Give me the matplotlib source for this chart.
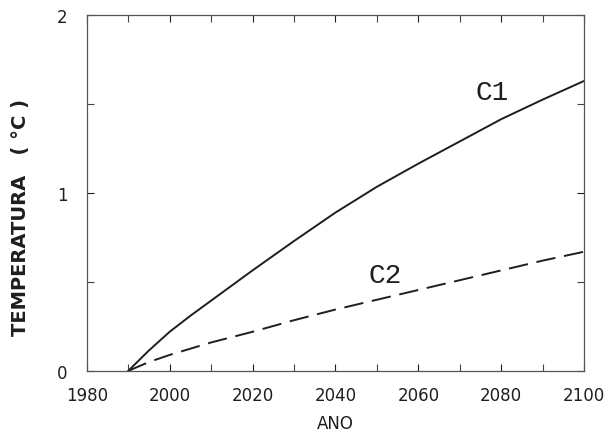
import numpy as np
import matplotlib
matplotlib.use('Agg')
from matplotlib import pyplot as plt
from matplotlib.ticker import MultipleLocator, FormatStrFormatter

"""data read off the figure"""
anos = [1990, 1995, 2000, 2005, 2010, 2015, 2020, 2030, 2040, 2050, 2060, 2070, 2080, 2090, 2100]
c1 = [0.0, 0.115, 0.22, 0.31, 0.395, 0.48, 0.565, 0.73, 0.89, 1.035, 1.165, 1.29, 1.415, 1.525, 1.63]
c2 = [0.0, 0.05, 0.09, 0.125, 0.16, 0.19, 0.22, 0.285, 0.345, 0.40, 0.455, 0.51, 0.565, 0.62, 0.67]

plt.rcParams['font.family'] = ['DejaVu Sans']

fig = plt.figure(figsize=(6.11, 4.35), dpi=100)
ax = fig.add_axes([0.142, 0.145, 0.814, 0.818])

ax.plot(anos, c1, color='#1e1e1e', lw=1.4)
ax.plot(anos, c2, color='#1e1e1e', lw=1.4, dashes=(10, 4.5))

ax.text(2073.7, 1.53, 'C1', fontsize=20, family='Liberation Mono', color='#1e1e1e')
ax.text(2047.9, 0.50, 'C2', fontsize=20, family='Liberation Mono', color='#1e1e1e')

ax.set_xlim(1980, 2100)
ax.set_ylim(0, 2)
ax.xaxis.set_major_locator(MultipleLocator(20))
ax.xaxis.set_minor_locator(MultipleLocator(10))
ax.yaxis.set_major_locator(MultipleLocator(1))
ax.yaxis.set_minor_locator(MultipleLocator(0.5))
ax.yaxis.set_major_formatter(FormatStrFormatter('%d'))
ax.tick_params(which='both', direction='in', top=True, right=True,
               length=5, width=0.8, color='#444444')
ax.tick_params(axis='x', pad=11, labelsize=12, colors='#1e1e1e')
ax.tick_params(axis='y', pad=14, labelsize=12, colors='#1e1e1e')
for s in ax.spines.values():
  s.set_color('#555555')
  s.set_linewidth(0.9)

ax.set_xlabel('ANO', fontsize=12, color='#1e1e1e', labelpad=7)
ax.set_ylabel('TEMPERATURA   ( °C )', fontsize=14, fontweight='bold', color='#1e1e1e')
ax.yaxis.set_label_coords(-0.115, 0.435)

fig.savefig('out.png', dpi=100)
